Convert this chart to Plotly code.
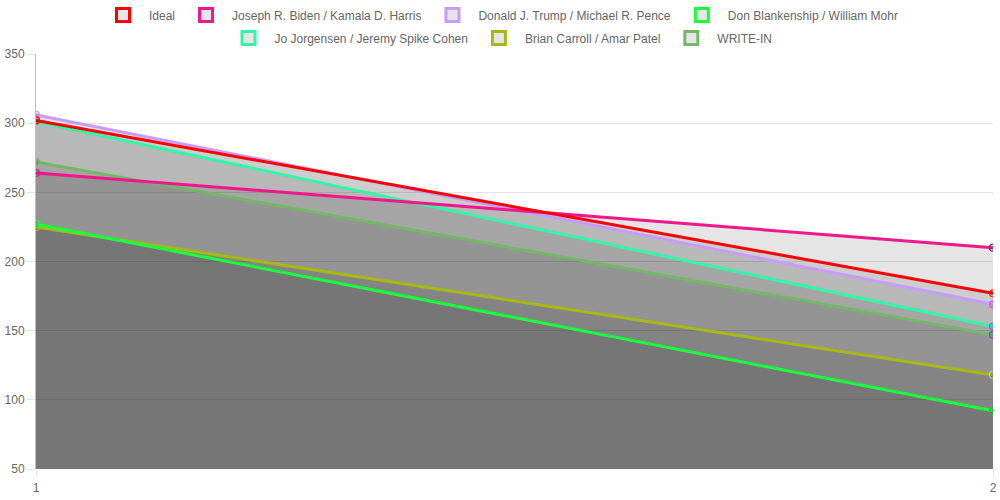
import plotly.graph_objects as go

x_vals = [1, 2]
names = ["Ideal", "Joseph R. Biden / Kamala D. Harris", "Donald J. Trump / Michael R. Pence",
         "Don Blankenship / William Mohr", "Jo Jorgensen / Jeremy Spike Cohen",
         "Brian Carroll / Amar Patel", "WRITE-IN"]
values = [
    [302, 177],
    [264, 210],
    [306, 169],
    [227, 92],
    [301, 153],
    [225, 118],
    [272, 147],
]
line_colors = ["#ff0000", "#f0168c", "#c89bff", "#1aff3c", "#33f5a8", "#a8b814", "#72b865"]
end_point_colors = ["#ff2020", "#3a3a70", "#e64ce6", "#33bb33", "#4a80ff", "#a8ccd8", "#9a33f5"]

fig = go.Figure()

# fills first (all underneath the lines)
for i in reversed(range(len(names))):
    fig.add_trace(go.Scatter(
        x=x_vals, y=values[i], mode="none", fill="tozeroy",
        fillcolor="rgba(0,0,0,0.1)", showlegend=False, hoverinfo="skip"))

# lines, first dataset on top
for i in reversed(range(len(names))):
    fig.add_trace(go.Scatter(
        x=x_vals, y=values[i], mode="lines+markers",
        line=dict(color=line_colors[i], width=3),
        marker=dict(symbol="circle", size=7, color="rgba(0,0,0,0.1)",
                    line=dict(color=[line_colors[i], end_point_colors[i]], width=1.2)),
        showlegend=False, name=names[i]))

# legend entries
for i in range(len(names)):
    fig.add_trace(go.Scatter(
        x=[None], y=[None], mode="markers", name=names[i], showlegend=True,
        legend="legend" if i < 4 else "legend2",
        marker=dict(symbol="square", size=13, color="#e6e6e6",
                    line=dict(color=line_colors[i], width=3))))

legend_common = dict(orientation="h", xref="container", yref="container", x=0.5,
                     xanchor="center", yanchor="middle", font=dict(size=12, color="#666"),
                     traceorder="normal", bgcolor="rgba(0,0,0,0)", itemwidth=42)

fig.update_layout(
    width=1000, height=500,
    margin=dict(l=36, r=7, t=54, b=31, autoexpand=False),
    paper_bgcolor="white", plot_bgcolor="white",
    font=dict(family="Liberation Sans, Arial, sans-serif", size=12, color="#666"),
    legend=dict(legend_common, y=1 - 15 / 500),
    legend2=dict(legend_common, y=1 - 38 / 500),
    xaxis=dict(range=[1, 2], tickvals=[1, 2], ticktext=["1", "2"], showgrid=True,
               gridcolor="rgba(0,0,0,0.1)", zeroline=False, ticks="outside", ticklen=8,
               tickcolor="rgba(0,0,0,0.1)", showline=False, tickfont=dict(size=12)),
    yaxis=dict(range=[50, 350], dtick=50, showgrid=True, gridcolor="rgba(0,0,0,0.1)",
               zeroline=False, ticks="outside", ticklen=8, tickcolor="rgba(0,0,0,0.1)",
               showline=True, linecolor="rgba(0,0,0,0.25)", tickfont=dict(size=12)),
)

fig.write_html("out.html")
